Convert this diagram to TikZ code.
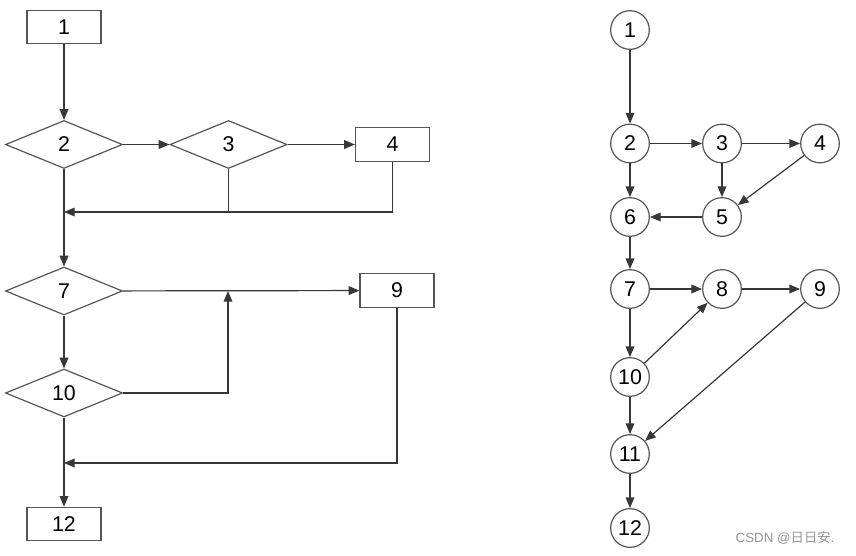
\documentclass[tikz,border=0pt]{standalone}
\usepackage{fontspec}
\setmainfont{Liberation Sans}
\newfontfamily\cjk{Noto Sans CJK SC}
\usetikzlibrary{arrows.meta,shapes.geometric,positioning}

\begin{document}
\begin{tikzpicture}[x=0.75pt,y=0.75pt,yscale=-1,xscale=1,
	font=\fontsize{16}{19}\selectfont,
	box/.style={draw={rgb, 255:red, 85; green, 85; blue, 85 }, line width=0.9pt, rectangle, minimum width=55.5pt, minimum height=25pt, inner sep=0pt},
	dia/.style={draw={rgb, 255:red, 85; green, 85; blue, 85 }, line width=0.9pt, diamond, aspect=2.4, minimum width=87.75pt, minimum height=36pt, inner sep=0pt},
	vtx/.style={draw={rgb, 255:red, 85; green, 85; blue, 85 }, line width=0.9pt, circle, minimum size=29pt, inner sep=0pt},
	lnk/.style={draw={rgb, 255:red, 55; green, 55; blue, 55 }, line width=0.9pt},
	arr/.style={lnk, -{Triangle[length=8pt,width=6.5pt]}}]
	\useasboundingbox (0,0) rectangle (856,556);

	%Flow chart (left)
	\node [box] (b1) at (64,27) {1};
	\node [dia] (d2) at (64,144.5) {2};
	\node [dia] (d3) at (228.5,144.5) {3};
	\node [box] (b4) at (392.5,144.5) {4};
	\node [dia] (d7) at (64,291) {7};
	\node [box] (b9) at (397,290.5) {9};
	\node [dia] (d10) at (64,393) {10};
	\node [box] (b12) at (64,524) {12};
	\coordinate (m1) at (64,212);
	\coordinate (m2) at (64,463);
	\coordinate (j1) at (228,291);

	\draw [arr] (b1) -- (d2);
	\draw [arr] (d2) -- (d3);
	\draw [arr] (d3) -- (b4);
	\draw [arr] (b4.south) |- (m1);
	\draw [lnk] (d3.south) -- (d3.south |- m1);
	\draw [arr] (d2) -- (d7);
	\draw [arr] (d7) -- (b9);
	\draw [arr] (d7) -- (d10);
	\draw [arr] (d10.east) -| (j1);
	\draw [arr] (b9.south) |- (m2);
	\draw [arr] (d10) -- (b12);

	%Flow graph (right)
	\node [vtx] (v1) at (630,30) {1};
	\node [vtx] (v2) at (630,143.5) {2};
	\node [vtx] (v3) at (722,143.5) {3};
	\node [vtx] (v4) at (820,143.5) {4};
	\node [vtx] (v6) at (630,217) {6};
	\node [vtx] (v5) at (722,217) {5};
	\node [vtx] (v7) at (630,289) {7};
	\node [vtx] (v8) at (722,289) {8};
	\node [vtx] (v9) at (820,289) {9};
	\node [vtx] (v10) at (630,377) {10};
	\node [vtx] (v11) at (630,454) {11};
	\node [vtx] (v12) at (630,528) {12};

	\foreach \a/\b in {1/2,2/3,3/4,2/6,3/5,4/5,5/6,6/7,7/8,8/9,7/10,10/8,10/11,9/11,11/12}
		\draw [arr] (v\a) -- (v\b);

	% Text Node
	\node [text={rgb, 255:red, 150; green, 150; blue, 150 }, font=\fontsize{10}{12}\selectfont] (mark) at (785,538) {CSDN @{\cjk 日日安}.};
\end{tikzpicture}
\end{document}
